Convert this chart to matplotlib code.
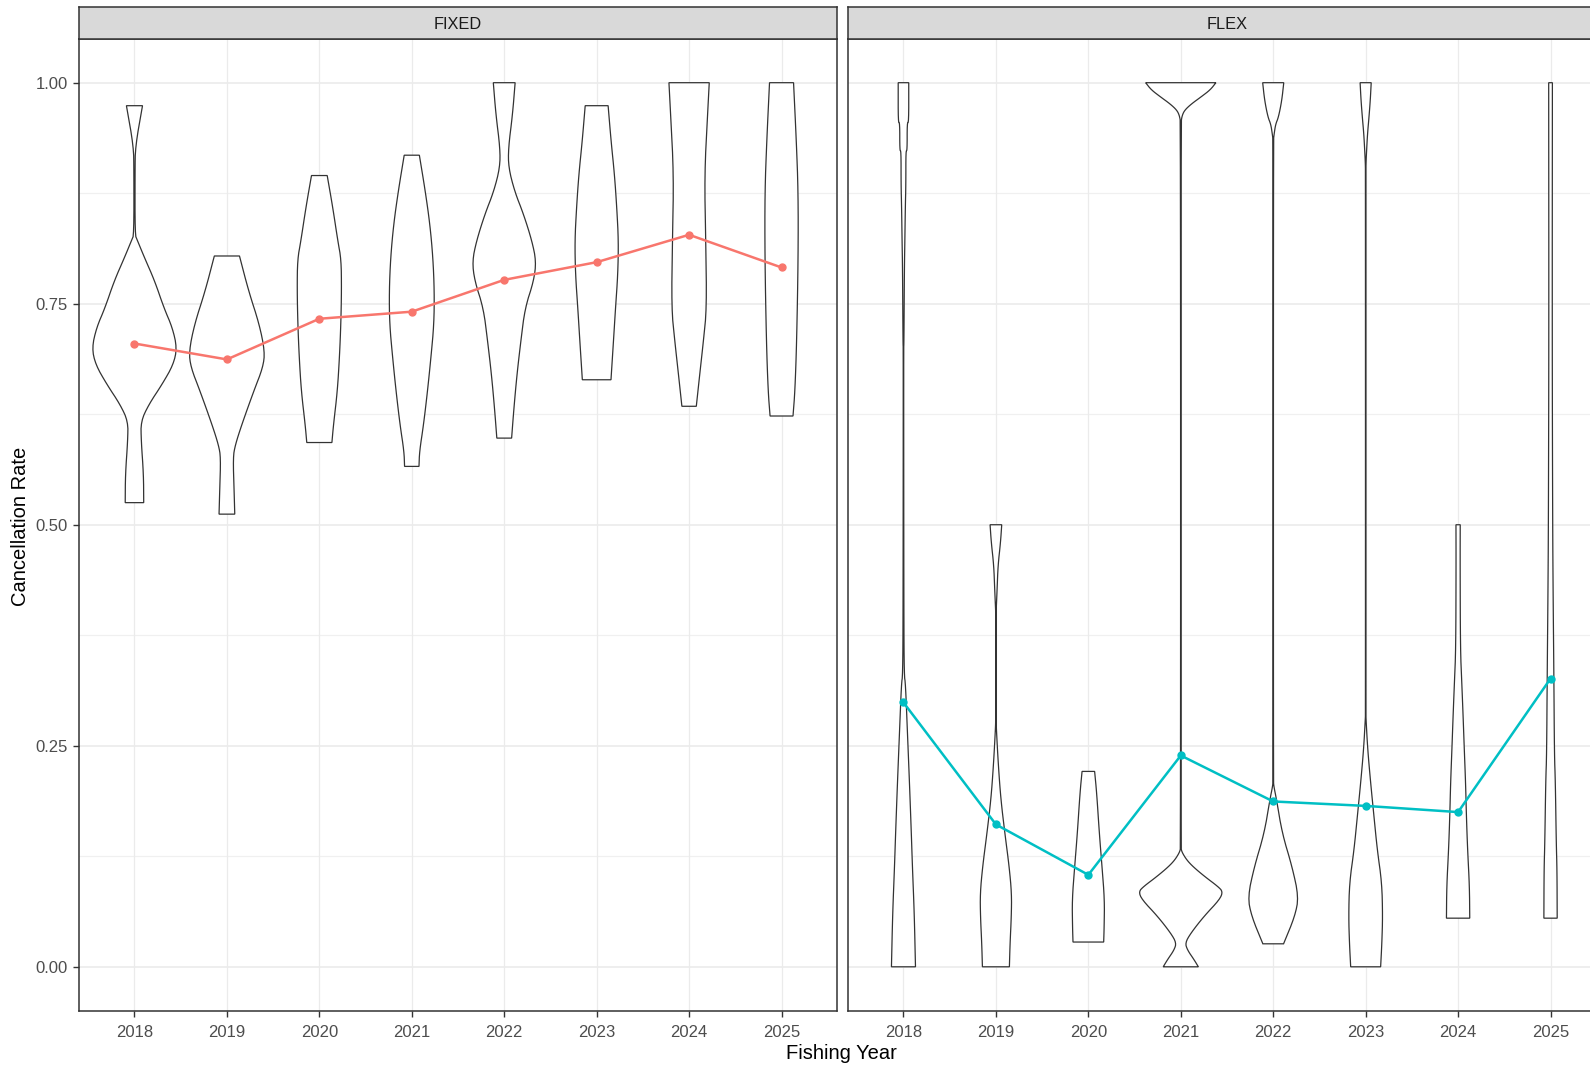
import matplotlib
matplotlib.use("Agg")
import matplotlib.pyplot as plt

plt.rcParams['font.family'] = ['Liberation Sans', 'DejaVu Sans']

years = [2018, 2019, 2020, 2021, 2022, 2023, 2024, 2025]
groups = ["FIXED", "FLEX"]

# mean cancellation rate per year
fixed_mean = [0.705, 0.687, 0.733, 0.741, 0.777, 0.797, 0.828, 0.791]
flex_mean = [0.299, 0.161, 0.104, 0.239, 0.187, 0.182, 0.175, 0.326]

# violin profiles: (rate, half width in year units), top to bottom
fixed_2018 = [(0.974, 0.087), (0.928, 0.010), (0.90, 0.006), (0.828, 0.006), (0.822, 0.03),
              (0.802, 0.109), (0.776, 0.218), (0.745, 0.32), (0.723, 0.41), (0.70, 0.46),
              (0.681, 0.42), (0.659, 0.30), (0.636, 0.155), (0.617, 0.07), (0.595, 0.073),
              (0.557, 0.098), (0.525, 0.10)]
fixed_2019 = [(0.804, 0.136), (0.764, 0.236), (0.727, 0.35), (0.696, 0.41), (0.678, 0.39),
              (0.651, 0.29), (0.613, 0.16), (0.59, 0.09), (0.576, 0.067), (0.538, 0.078),
              (0.512, 0.085)]
fixed_2020 = [(0.895, 0.085), (0.859, 0.145), (0.821, 0.20), (0.80, 0.236), (0.766, 0.24),
              (0.728, 0.233), (0.69, 0.218), (0.651, 0.195), (0.613, 0.153), (0.593, 0.136)]
fixed_2021 = [(0.918, 0.082), (0.878, 0.145), (0.84, 0.196), (0.802, 0.229), (0.764, 0.244),
              (0.727, 0.24), (0.689, 0.207), (0.651, 0.17), (0.613, 0.127), (0.583, 0.084),
              (0.566, 0.078)]
fixed_2022 = [(1.0, 0.118), (0.964, 0.09), (0.926, 0.045), (0.904, 0.047), (0.877, 0.113),
              (0.851, 0.21), (0.821, 0.30), (0.798, 0.345), (0.776, 0.32), (0.745, 0.225),
              (0.708, 0.18), (0.67, 0.138), (0.632, 0.105), (0.598, 0.08)]
fixed_2023 = [(0.974, 0.124), (0.934, 0.156), (0.896, 0.193), (0.858, 0.218), (0.821, 0.236),
              (0.783, 0.229), (0.745, 0.204), (0.708, 0.182), (0.664, 0.155)]
fixed_2024 = [(1.0, 0.218), (0.964, 0.2), (0.896, 0.167), (0.821, 0.18), (0.745, 0.19),
              (0.708, 0.155), (0.67, 0.115), (0.634, 0.078)]
fixed_2025 = [(1.0, 0.13), (0.934, 0.16), (0.877, 0.18), (0.802, 0.18), (0.708, 0.164),
              (0.651, 0.145), (0.623, 0.124)]

flex_2018 = [(1.0, 0.057), (0.955, 0.057), (0.955, 0.04), (0.923, 0.04), (0.923, 0.026),
             (0.885, 0.026), (0.858, 0.02), (0.821, 0.015), (0.79, 0.01), (0.705, 0.005),
             (0.70, 0.002), (0.40, 0.004), (0.33, 0.008), (0.32, 0.022), (0.265, 0.043),
             (0.208, 0.065), (0.151, 0.085), (0.113, 0.097), (0.06, 0.117), (0.0, 0.13)]
flex_2019 = [(0.5, 0.063), (0.48, 0.05), (0.454, 0.023), (0.427, 0.013), (0.408, 0.005),
             (0.40, 0.002), (0.28, 0.002), (0.269, 0.005), (0.227, 0.027), (0.189, 0.054),
             (0.151, 0.097), (0.113, 0.144), (0.083, 0.17), (0.057, 0.167), (0.026, 0.153),
             (0.0, 0.146)]
flex_2020 = [(0.221, 0.068), (0.197, 0.09), (0.151, 0.119), (0.113, 0.148), (0.076, 0.175),
             (0.045, 0.171), (0.028, 0.166)]
flex_2021 = [(1.0, 0.38), (0.992, 0.32), (0.984, 0.22), (0.976, 0.115), (0.969, 0.043),
             (0.963, 0.015), (0.955, 0.002), (0.135, 0.002), (0.130, 0.011), (0.121, 0.063),
             (0.113, 0.135), (0.102, 0.26), (0.091, 0.40), (0.085, 0.455), (0.076, 0.42),
             (0.057, 0.25), (0.038, 0.108), (0.027, 0.048), (0.019, 0.072), (0.008, 0.144),
             (0.0, 0.19)]
flex_2022 = [(1.0, 0.114), (0.98, 0.093), (0.961, 0.057), (0.953, 0.026), (0.942, 0.01),
             (0.935, 0.002), (0.21, 0.002), (0.204, 0.007), (0.189, 0.036), (0.151, 0.097),
             (0.113, 0.205), (0.079, 0.275), (0.057, 0.234), (0.026, 0.112)]
flex_2023 = [(1.0, 0.06), (0.98, 0.05), (0.961, 0.036), (0.942, 0.02), (0.923, 0.01),
             (0.91, 0.004), (0.90, 0.002), (0.285, 0.002), (0.28, 0.004), (0.246, 0.022),
             (0.208, 0.054), (0.17, 0.09), (0.132, 0.126), (0.095, 0.175), (0.057, 0.184),
             (0.026, 0.175), (0.0, 0.162)]
flex_2024 = [(0.5, 0.023), (0.454, 0.022), (0.359, 0.025), (0.321, 0.04), (0.284, 0.054),
             (0.246, 0.067), (0.208, 0.081), (0.17, 0.09), (0.132, 0.103), (0.091, 0.123),
             (0.055, 0.126)]
flex_2025 = [(1.0, 0.02), (0.71, 0.018), (0.50, 0.023), (0.42, 0.028), (0.33, 0.036),
             (0.24, 0.042), (0.21, 0.052), (0.14, 0.062), (0.11, 0.07), (0.055, 0.072)]

fixed_violins = [fixed_2018, fixed_2019, fixed_2020, fixed_2021,
                 fixed_2022, fixed_2023, fixed_2024, fixed_2025]
flex_violins = [flex_2018, flex_2019, flex_2020, flex_2021,
                flex_2022, flex_2023, flex_2024, flex_2025]

colors = {"FIXED": "#F8766D", "FLEX": "#00BFC4"}
yticks = [0.0, 0.25, 0.5, 0.75, 1.0]
minor_y = [0.125, 0.375, 0.625, 0.875]

W, H = 1590, 1065
fig = plt.figure(figsize=(W / 100, H / 100), dpi=100)

panel_top, panel_bot = 38.5, 1011
strip_top = 7
lefts = [79, 848]
pw = 758


def rounded(prof, passes=2):
    # corner cutting so the outline curves like a density, ends kept in place
    pts = list(prof)
    for _ in range(passes):
        new = [pts[0]]
        for (y0, w0), (y1, w1) in zip(pts[:-1], pts[1:]):
            new.append((0.75 * y0 + 0.25 * y1, 0.75 * w0 + 0.25 * w1))
            new.append((0.25 * y0 + 0.75 * y1, 0.25 * w0 + 0.75 * w1))
        new.append(pts[-1])
        pts = new
    return pts


def draw_violin(ax, x, prof):
    pts = rounded(prof)
    ys = [p[0] for p in pts]
    hw = [p[1] for p in pts]
    xs = [x + w for w in hw] + [x - w for w in hw[::-1]]
    yy = ys + ys[::-1]
    ax.fill(xs, yy, facecolor="white", edgecolor="#333333", lw=0.9, zorder=2)


for i, (grp, violins, means) in enumerate(zip(groups, [fixed_violins, flex_violins],
                                             [fixed_mean, flex_mean])):
    ax = fig.add_axes([lefts[i] / W, 1 - panel_bot / H, pw / W, (panel_bot - panel_top) / H])
    ax.set_xlim(2017.4, 2025.6)
    ax.set_ylim(-0.05, 1.05)
    for y in yticks:
        ax.axhline(y, color="#EBEBEB", lw=1.2, zorder=0)
    for y in minor_y:
        ax.axhline(y, color="#F0F0F0", lw=0.9, zorder=0)
    for yr in years:
        ax.axvline(yr, color="#EBEBEB", lw=0.9, zorder=0)

    for yr, prof in zip(years, violins):
        draw_violin(ax, yr, prof)

    ax.plot(years, means, color=colors[grp], lw=1.8, marker="o", ms=5, zorder=3)

    ax.set_xticks(years)
    ax.set_xticklabels([str(y) for y in years])
    ax.set_yticks(yticks)
    if i == 0:
        ax.set_yticklabels(["0.00", "0.25", "0.50", "0.75", "1.00"])
    else:
        ax.tick_params(axis="y", left=False, labelleft=False)
    ax.tick_params(length=4, width=1, color="#333333", labelcolor="#4D4D4D",
                   labelsize=12)
    ax.tick_params(axis="x", pad=6)
    ax.tick_params(axis="y", pad=4)
    for s in ax.spines.values():
        s.set_color("#333333")
        s.set_linewidth(1.1)

    # facet strip
    sx = fig.add_axes([lefts[i] / W, 1 - panel_top / H, pw / W, (panel_top - strip_top) / H])
    sx.set_facecolor("#D9D9D9")
    sx.set_xticks([])
    sx.set_yticks([])
    for s in sx.spines.values():
        s.set_color("#333333")
        s.set_linewidth(1.1)
    sx.text(0.5, 0.44, grp, ha="center", va="center", fontsize=11.8, color="#1A1A1A",
            transform=sx.transAxes)

fig.text(841 / W, 1 - 1053.5 / H, "Fishing Year", ha="center", va="center", fontsize=14.5)
fig.text(20.5 / W, 1 - 526 / H, "Cancellation Rate", ha="center", va="center",
         rotation=90, fontsize=14.5)

fig.savefig("out.png", dpi=100)
